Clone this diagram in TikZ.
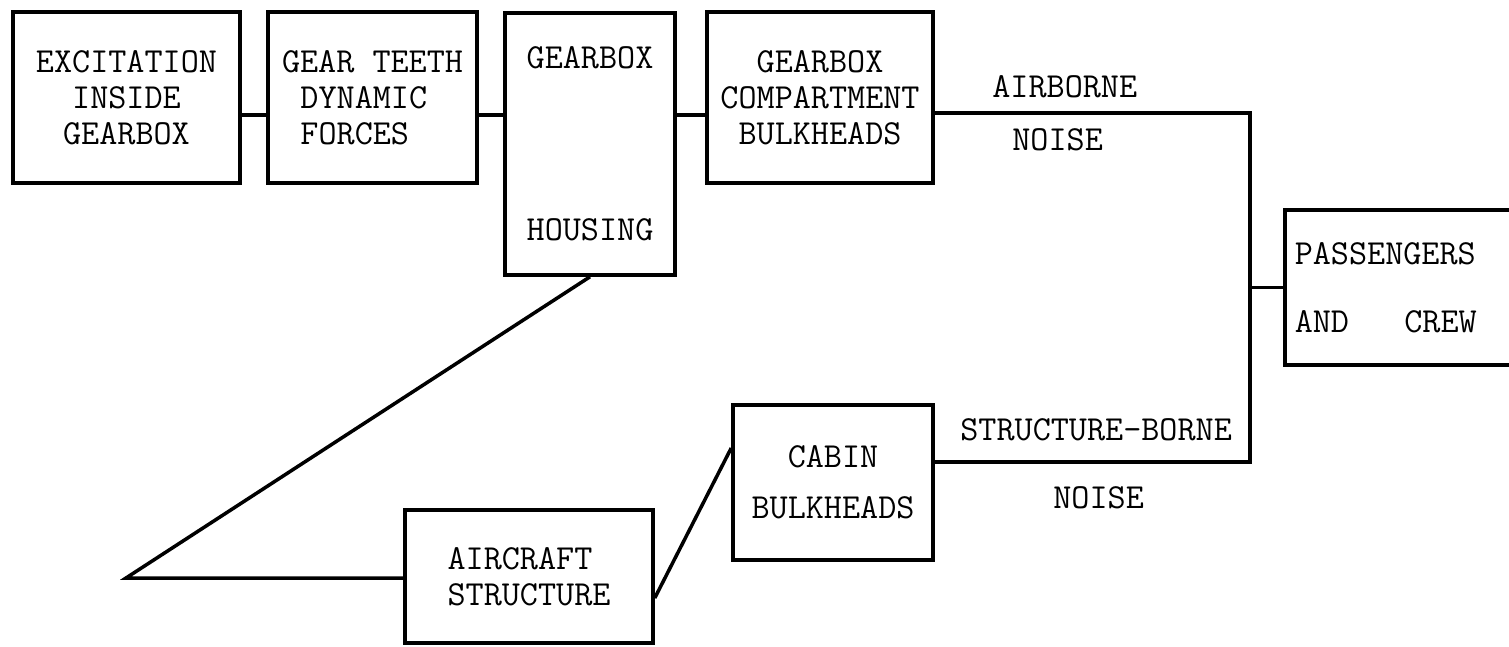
\documentclass[tikz,border=0pt]{standalone}

\begin{document}
\begin{tikzpicture}[
        font=\ttfamily\fontsize{20}{20.4}\selectfont,
        block/.style={rectangle, draw=black, line width=2pt, align=center, inner sep=0pt, minimum height=3.42cm},
        link/.style={draw=black, line width=2pt},
        tag/.style={anchor=base west, inner sep=0pt}
    ]
        \useasboundingbox (0,0) rectangle (30.18,-12.92);

        \node[block, minimum width=4.54cm] (excite) at (2.53,-1.95) {EXCITATION\\INSIDE\\GEARBOX};
        \node[block, minimum width=4.18cm, align=left] (teeth) at (7.45,-1.95) {GEAR TEETH\\\hspace*{.525em}DYNAMIC\\\hspace*{.525em}FORCES};
        \node[block, minimum width=3.4cm, minimum height=5.24cm] (housing) at (11.8,-2.88) {GEARBOX\\[77.6pt]HOUSING};
        \node[block, minimum width=4.52cm] (compartment) at (16.4,-1.95) {GEARBOX\\COMPARTMENT\\BULKHEADS};
        \node[block, anchor=west, minimum height=3.1cm, text width=4.4cm, inner xsep=0.2cm, align=left] (passengers) at (25.66,-5.75) {PASSENGERS\\[18.1pt]AND\hspace{1.575em}CREW};
        \node[block, minimum width=4cm, minimum height=3.1cm] (cabin) at (16.66,-9.65) {CABIN\\[8.6pt]BULKHEADS};
        \node[block, minimum width=4.96cm, minimum height=2.66cm, align=left] (aircraft) at (10.58,-11.53) {AIRCRAFT\\STRUCTURE};

        \node[tag] (airborne) at (19.84,-1.94) {AIRBORNE};
        \node[tag] (airnoise) at (20.24,-3.0) {NOISE};
        \node[tag] (structborne) at (19.2,-8.8) {STRUCTURE-BORNE};
        \node[tag] (structnoise) at (21.06,-10.16) {NOISE};

        \coordinate (feed) at (0,-2.3);
        \coordinate (airtop) at (25,-2.26);
        \coordinate (structbot) at (25,-9.24);
        \coordinate (kink) at (2.52,-11.56);

        \draw[link] (excite.east |- feed) -- (teeth.west |- feed);
        \draw[link] (teeth.east |- feed) -- (housing.west |- feed);
        \draw[link] (housing.east |- feed) -- (compartment.west |- feed);
        \draw[link] (compartment.east |- airtop) -- (airtop) -- (structbot) -- (cabin.east |- structbot);
        \draw[link] (passengers.west) -- (passengers.west -| airtop);
        \draw[link] (housing.south) -- (kink) -- (aircraft.west |- kink);
        \draw[link] ([yshift=-0.43cm]aircraft.east) -- ([yshift=0.69cm]cabin.west);
    \end{tikzpicture}
\end{document}
